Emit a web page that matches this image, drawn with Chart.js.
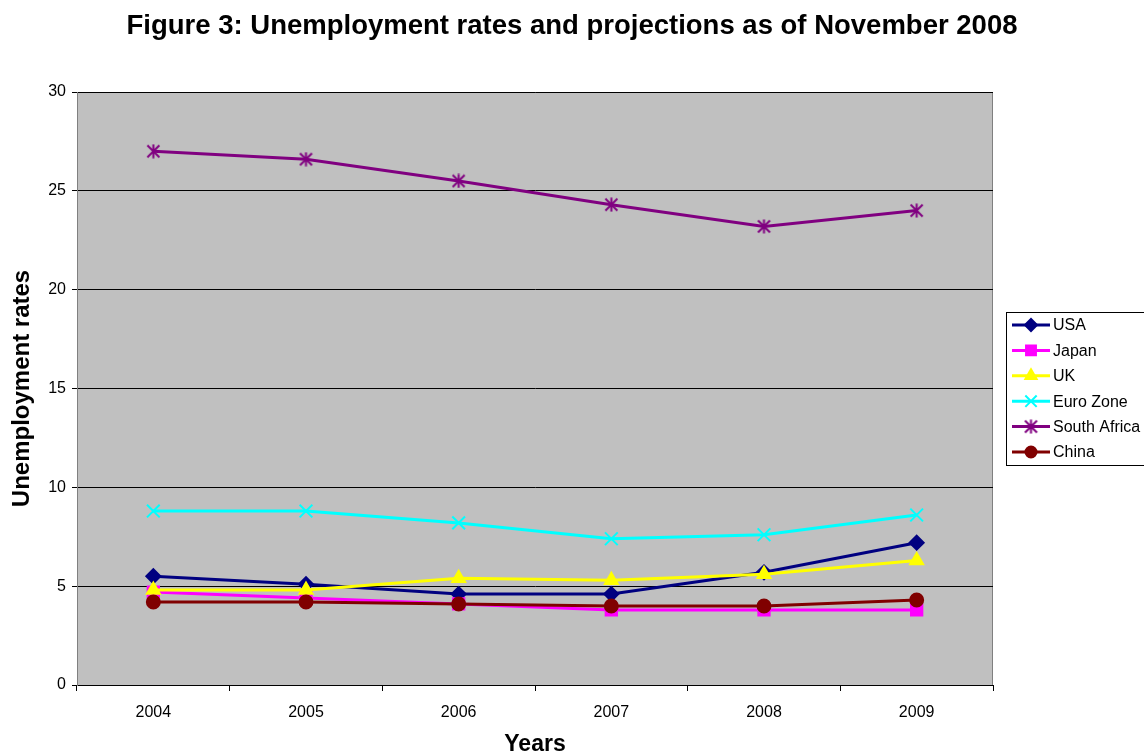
<!DOCTYPE html>
<html>
<head>
<meta charset="utf-8">
<script src="https://cdn.jsdelivr.net/npm/chart.js@4.4.1/dist/chart.umd.min.js"></script>
<style>
  body { margin: 0; background: #fff; }
  canvas { display: block; }
</style>
</head>
<body>
<canvas id="chart" width="1144" height="752"></canvas>
<script>
// data
const years = ['2004', '2005', '2006', '2007', '2008', '2009'];
const usa = [5.5, 5.1, 4.6, 4.6, 5.7, 7.2];
const japan = [4.7, 4.4, 4.1, 3.8, 3.8, 3.8];
const uk = [4.8, 4.8, 5.4, 5.3, 5.6, 6.3];
const euroZone = [8.8, 8.8, 8.2, 7.4, 7.6, 8.6];
const southAfrica = [27.0, 26.6, 25.5, 24.3, 23.2, 24.0];
const china = [4.2, 4.2, 4.1, 4.0, 4.0, 4.3];
const yTicks = [0, 5, 10, 15, 20, 25, 30];

const FONT = "'Liberation Sans', Arial, sans-serif";
const TITLE = 'Figure 3: Unemployment rates and projections as of November 2008';

// Excel's star marker: an X with a vertical bar
function asterisk(color, size) {
    const c = document.createElement('canvas');
    c.width = size; c.height = size;
    const g = c.getContext('2d');
    g.strokeStyle = color;
    g.lineWidth = 2;
    const m = 1.5, e = size - 1.5, h = size / 2;
    g.beginPath();
    g.moveTo(m, m); g.lineTo(e, e);
    g.moveTo(e, m); g.lineTo(m, e);
    g.moveTo(h, m - 1); g.lineTo(h, e + 1);
    g.stroke();
    return c;
}

const series = [
    { label: 'USA', data: usa, color: '#000080', style: 'rectRot', r: 7 },
    { label: 'Japan', data: japan, color: '#FF00FF', style: 'rect', r: 8 },
    { label: 'UK', data: uk, color: '#FFFF00', style: 'triangle', r: 7.5 },
    { label: 'Euro Zone', data: euroZone, color: '#00FFFF', style: 'crossRot', r: 9 },
    { label: 'South Africa', data: southAfrica, color: '#800080', style: asterisk('#800080', 15), r: 7 },
    { label: 'China', data: china, color: '#800000', style: 'circle', r: 6.5 }
];

// title centred on the whole page
const pageTitle = {
    id: 'pageTitle',
    afterDraw(chart) {
        const { ctx } = chart;
        ctx.save();
        ctx.fillStyle = '#000';
        ctx.font = 'bold 27.5px ' + FONT;
        ctx.textAlign = 'center';
        ctx.textBaseline = 'alphabetic';
        ctx.fillText(TITLE, 572, 34);
        ctx.restore();
    }
};

// gray plot area + its frame
const plotBg = {
    id: 'plotBg',
    beforeDraw(chart) {
        const { ctx, chartArea: a } = chart;
        ctx.save();
        ctx.fillStyle = '#C0C0C0';
        ctx.fillRect(a.left, a.top, a.right - a.left, a.bottom - a.top);
        ctx.strokeStyle = '#808080';
        ctx.lineWidth = 1;
        ctx.strokeRect(a.left + 0.5, a.top + 0.5, a.right - a.left - 1, a.bottom - a.top);
        ctx.restore();
    }
};

// Excel-style boxed legend on the right
const boxLegend = {
    id: 'boxLegend',
    afterDraw(chart) {
        const { ctx } = chart;
        const x0 = 1006, y0 = 312, w = 160, h = 153;
        ctx.save();
        ctx.fillStyle = '#fff';
        ctx.fillRect(x0, y0, w, h);
        ctx.strokeStyle = '#000';
        ctx.lineWidth = 1;
        ctx.strokeRect(x0 + 0.5, y0 + 0.5, w, h);
        ctx.font = '16px ' + FONT;
        ctx.textBaseline = 'middle';
        series.forEach((s, i) => {
            const y = y0 + 13 + i * 25.4;
            ctx.strokeStyle = s.color;
            ctx.lineWidth = 3;
            ctx.beginPath();
            ctx.moveTo(1012, y);
            ctx.lineTo(1050, y);
            ctx.stroke();
            ctx.fillStyle = s.color;
            ctx.lineWidth = 2;
            Chart.helpers.drawPoint(ctx, { pointStyle: s.style, radius: s.r - 1, rotation: 0, borderWidth: 2 }, 1031, y);
            ctx.fillStyle = '#000';
            ctx.fillText(s.label, 1053, y + 1);
        });
        ctx.restore();
    }
};

new Chart(document.getElementById('chart').getContext('2d'), {
    type: 'line',
    data: {
        labels: years,
        datasets: series.map((s, i) => ({
            label: s.label,
            data: s.data,
            borderColor: s.color,
            backgroundColor: s.color,
            borderWidth: 3,
            pointStyle: s.style,
            pointRadius: s.r,
            pointBorderWidth: 2,
            tension: 0,
            order: series.length - i
        }))
    },
    options: {
        responsive: false,
        animation: false,
        layout: { padding: { left: 0, right: 151, top: 92, bottom: 0 } },
        plugins: {
            legend: { display: false },
            tooltip: { enabled: false },
            title: { display: false }
        },
        scales: {
            x: {
                offset: true,
                afterFit(s) { s.height = 67; },
                grid: { offset: true, drawOnChartArea: false, color: '#000', tickLength: 6 },
                border: { color: '#000' },
                ticks: { color: '#000', font: { family: FONT, size: 16 }, padding: 12 },
                title: {
                    display: true, text: 'Years', color: '#000',
                    font: { family: FONT, size: 23, weight: 'bold', lineHeight: 1 },
                    padding: { top: 0, bottom: -4 }
                }
            },
            y: {
                min: 0, max: 30,
                afterFit(s) { s.width = 77; },
                afterBuildTicks(s) { s.ticks = yTicks.map(v => ({ value: v })); },
                grid: { color: '#000', tickLength: 5 },
                border: { color: '#808080' },
                ticks: { color: '#000', font: { family: FONT, size: 16 }, padding: 6 },
                title: {
                    display: true, text: 'Unemployment rates', color: '#000',
                    font: { family: FONT, size: 24, weight: 'bold', lineHeight: 1 },
                    padding: { top: 10, bottom: 0 }
                }
            }
        }
    },
    plugins: [plotBg, boxLegend, pageTitle]
});
</script>
</body>
</html>
